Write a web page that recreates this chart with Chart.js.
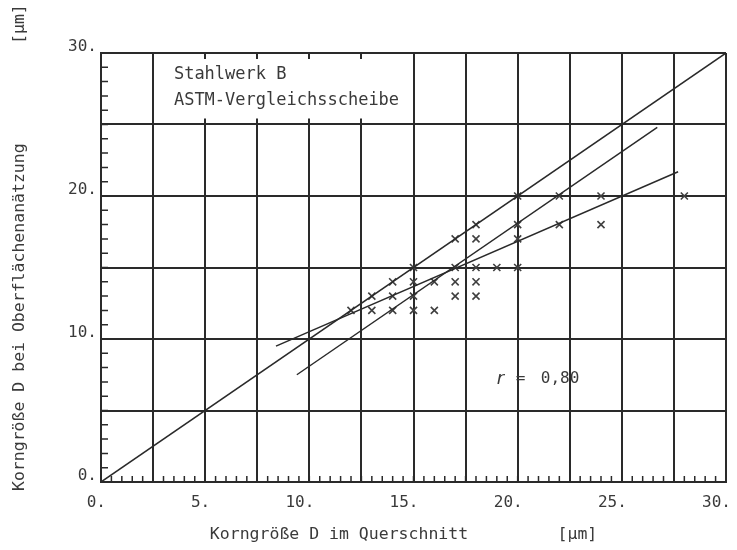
<!DOCTYPE html>
<html>
<head>
<meta charset="utf-8">
<script src="https://cdn.jsdelivr.net/npm/chart.js@4.4.1/dist/chart.umd.min.js"></script>
<style>
  body { margin: 0; background: #fff; }
  #wrap { width: 737px; height: 550px; }
</style>
</head>
<body>
<div id="wrap"><canvas id="GrainChart" width="737" height="550"></canvas></div>
<script>
// measured grain sizes (x: cross section, y: surface etching), µm
const crossX = [20, 22, 24, 28, 18, 20, 22, 24, 17, 18, 20, 15, 17, 18, 19, 20,
                14, 15, 16, 17, 18, 13, 14, 15, 17, 18, 12, 13, 14, 15, 16];
const crossY = [20, 20, 20, 20, 18, 18, 18, 18, 17, 17, 17, 15, 15, 15, 15, 15,
                14, 14, 14, 14, 14, 13, 13, 13, 13, 13, 12, 12, 12, 12, 12];

// reference line y = x and the two regression lines
const diagX = [0, 30];
const diagY = [0, 30];
const fitAX = [8.4, 27.7];
const fitAY = [9.5, 21.7];
const fitBX = [9.4, 26.7];
const fitBY = [7.5, 24.8];

const labelsBox = ['Stahlwerk B', 'ASTM-Vergleichsscheibe'];
const corrLabel = '0,80';

const ink = '#2a2a2a';
const textInk = '#3a3a3a';
const mono = '"DejaVu Sans Mono", monospace';

function toPoints(xs, ys) {
    return xs.map((x, i) => ({ x: x, y: ys[i] }));
}

function lineSet(xs, ys) {
    return {
        data: toPoints(xs, ys),
        showLine: true,
        pointRadius: 0,
        borderColor: ink,
        borderWidth: 1.5,
        fill: false
    };
}

// small inner ticks along the bottom and left edge, text box and r label
const decorPlugin = {
    id: 'decor',
    beforeDatasetsDraw(chart) {
        const ctx = chart.ctx;
        const xs = chart.scales.x;
        const ys = chart.scales.y;
        ctx.save();
        ctx.strokeStyle = ink;
        ctx.lineWidth = 1.5;
        ctx.beginPath();
        for (let v = 0.5; v < 30; v += 0.5) {
            const px = xs.getPixelForValue(v);
            ctx.moveTo(px, ys.bottom);
            ctx.lineTo(px, ys.bottom - 6);
        }
        for (let v = 1; v < 30; v += 1) {
            const py = ys.getPixelForValue(v);
            ctx.moveTo(xs.left, py);
            ctx.lineTo(xs.left + 7, py);
        }
        ctx.stroke();

        // blank box behind the caption, grid stubs stay at its edges
        const bx0 = xs.getPixelForValue(2.5) + 1.5;
        const bx1 = xs.getPixelForValue(15) - 1.5;
        const by0 = ys.getPixelForValue(30) + 6;
        const by1 = ys.getPixelForValue(25) - 6;
        ctx.fillStyle = '#fff';
        ctx.fillRect(bx0, by0, bx1 - bx0, by1 - by0);

        ctx.fillStyle = textInk;
        ctx.font = '17px ' + mono;
        ctx.textAlign = 'left';
        ctx.textBaseline = 'middle';
        ctx.fillText(labelsBox[0], xs.getPixelForValue(3.5), ys.getPixelForValue(28.5));
        ctx.fillText(labelsBox[1], xs.getPixelForValue(3.5), ys.getPixelForValue(26.7));

        const rx = xs.getPixelForValue(19);
        const ry = ys.getPixelForValue(7.2);
        ctx.font = 'italic 18px "DejaVu Sans", sans-serif';
        ctx.fillText('r', rx, ry);
        ctx.font = '16px ' + mono;
        ctx.fillText('=', rx + 19, ry);
        ctx.fillText(corrLabel, rx + 44, ry);
        ctx.restore();
    }
};

let ctx = document.getElementById('GrainChart').getContext('2d');
let chart = new Chart(ctx, {
    type: 'scatter',
    data: {
        datasets: [
            lineSet(diagX, diagY),
            lineSet(fitAX, fitAY),
            lineSet(fitBX, fitBY),
            {
                data: toPoints(crossX, crossY),
                pointStyle: 'crossRot',
                pointRadius: 5,
                borderColor: '#404040',
                borderWidth: 1.6,
                showLine: false
            }
        ]
    },
    options: {
        responsive: false,
        animation: false,
        layout: { padding: { top: 53, right: 6, left: 0, bottom: 0 } },
        plugins: {
            legend: { display: false },
            tooltip: { enabled: false }
        },
        scales: {
            x: {
                type: 'linear',
                min: 0,
                max: 30,
                afterFit: function (scale) { scale.height = 68; },
                border: { display: true, color: ink, width: 2 },
                grid: { color: ink, lineWidth: 2, drawTicks: false },
                ticks: {
                    stepSize: 2.5,
                    autoSkip: false,
                    maxRotation: 0,
                    align: 'end',
                    labelOffset: 5,
                    padding: 11,
                    color: textInk,
                    font: { family: mono, size: 16 },
                    callback: v => (v % 5 === 0 ? v + '.' : '')
                },
                title: {
                    display: true,
                    text: 'Korngröße D im Querschnitt         [µm]  ',
                    color: textInk,
                    font: { family: mono, size: 16.5 },
                    padding: { bottom: 5 }
                }
            },
            y: {
                type: 'linear',
                min: 0,
                max: 30,
                afterFit: function (scale) { scale.width = 101; },
                border: { display: true, color: ink, width: 2 },
                grid: { color: ink, lineWidth: 2, drawTicks: false },
                ticks: {
                    stepSize: 5,
                    autoSkip: false,
                    labelOffset: -6,
                    padding: 4,
                    color: textInk,
                    font: { family: mono, size: 16 },
                    callback: v => (v % 10 === 0 ? v + '.' : '')
                },
                title: {
                    display: true,
                    text: '    Korngröße D bei Oberflächenanätzung          [µm]',
                    color: textInk,
                    font: { family: mono, size: 16.5 },
                    padding: { top: 10 }
                }
            }
        }
    },
    plugins: [decorPlugin]
});
</script>
</body>
</html>
